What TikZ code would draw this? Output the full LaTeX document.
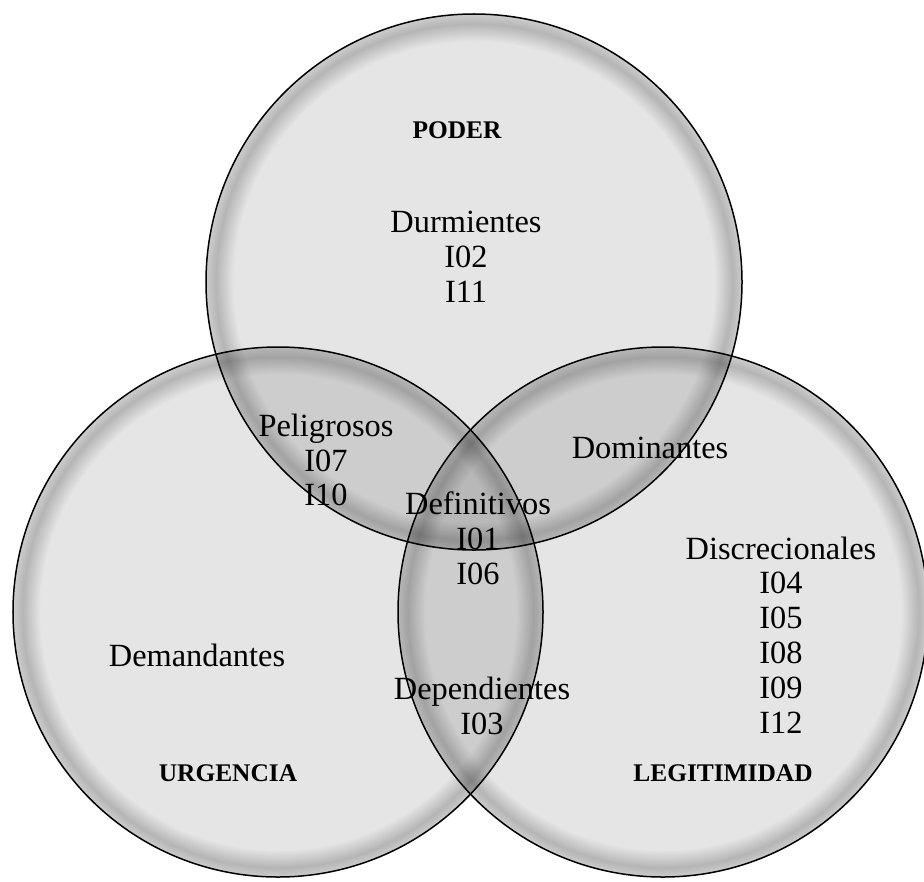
\documentclass[tikz,border=0pt]{standalone}
\usepackage{fontspec}
\setmainfont{Liberation Serif}
\pgfdeclareradialshading{vennring}{\pgfpoint{0bp}{0bp}}{%
  color(0bp)=(black!10);
  color(22.4bp)=(black!10);
  color(24.1bp)=(black!29);
  color(25bp)=(black!20);
  color(50bp)=(black!20)}
\tikzset{
  venn/.style={shading=vennring, blend mode=multiply},
  rim/.style={draw=black, line width=1.5bp},
  lbl/.style={align=center, inner sep=0pt, font=\fontsize{32.5}{35}\selectfont},
  head/.style={inner sep=0pt, font=\fontsize{25.5}{30}\selectfont\bfseries}
}
\begin{document}
\begin{tikzpicture}[x=1bp, y=-1bp]
  \fill[white] (0,0) rectangle (924,882);
  \useasboundingbox (0,0) rectangle (924,882);
  \coordinate (cp) at (474,282);
  \coordinate (cu) at (278,612);
  \coordinate (cl) at (663,612);
  \begin{scope}
    \clip (0,0) rectangle (924,882);
    \shade[venn] (cp) circle[radius=268bp];
    \shade[venn] (cu) circle[radius=265bp];
    \shade[venn] (cl) circle[radius=265bp];
    \draw[rim] (cp) circle[radius=268bp];
    \draw[rim] (cu) circle[radius=265bp];
    \draw[rim] (cl) circle[radius=265bp];
  \end{scope}
  \node[head] (poder) at (457,130) {PODER};
  \node[head] (urg) at (228,773) {URGENCIA};
  \node[head] (leg) at (723,773) {LEGITIMIDAD};
  \node[lbl] (dur) at (466,257) {Durmientes\\I02\\I11};
  \node[lbl] (pel) at (326,460) {Peligrosos\\I07\\I10};
  \node[lbl] (dom) at (650,448) {Dominantes};
  \node[lbl] (def) at (478,538) {Definitivos\\I01\\I06};
  \node[lbl] (dem) at (197,655) {Demandantes};
  \node[lbl] (dep) at (482,706) {Dependientes\\I03};
  \node[lbl] (dis) at (781,635) {Discrecionales\\I04\\I05\\I08\\I09\\I12};
\end{tikzpicture}
\end{document}
